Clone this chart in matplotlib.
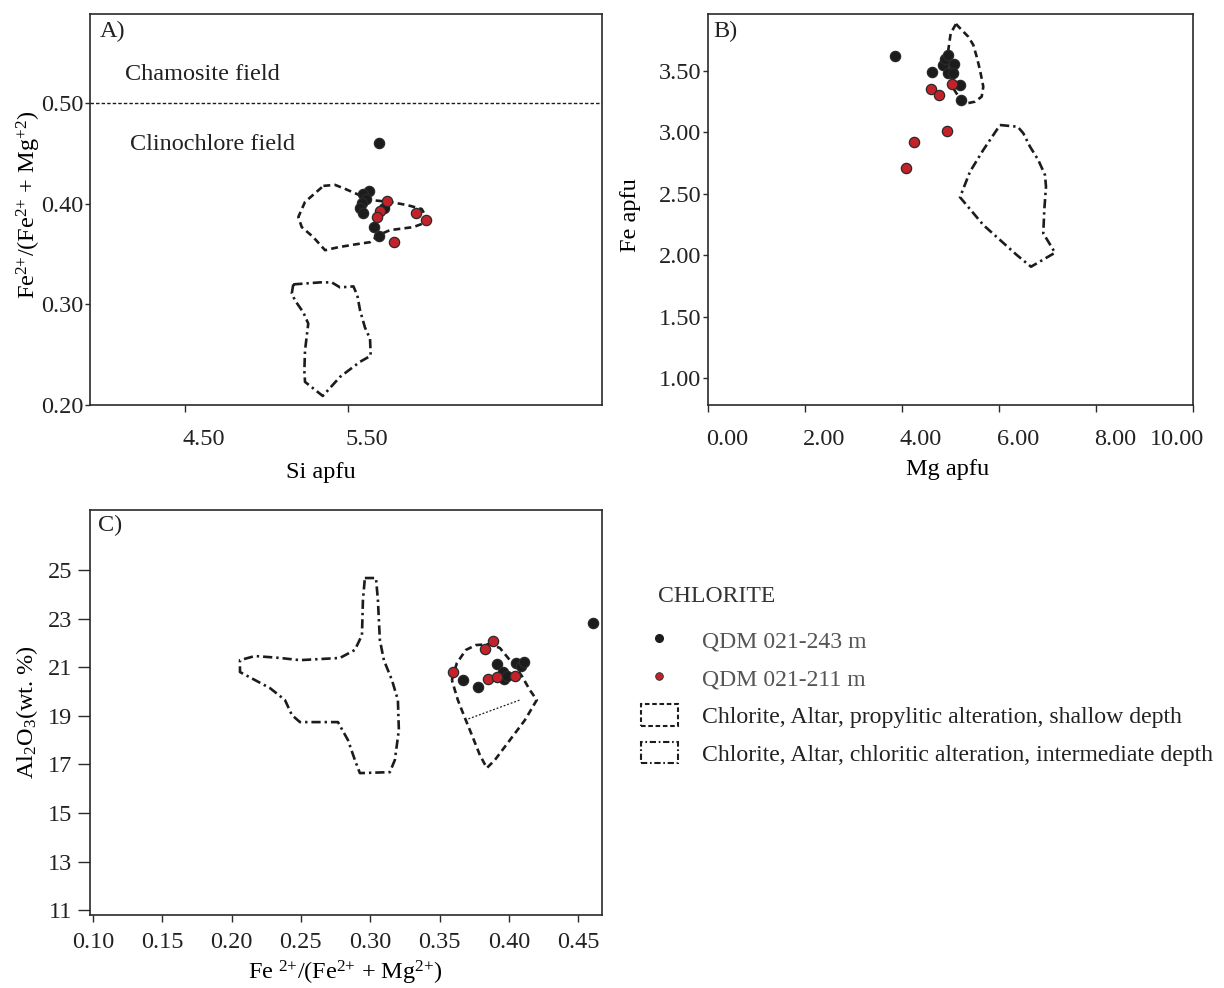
import matplotlib
matplotlib.use('Agg')
import matplotlib.pyplot as plt
from matplotlib.lines import Line2D
from matplotlib.patches import Rectangle
from matplotlib.transforms import ScaledTranslation

plt.rcParams['font.family'] = ['Liberation Serif', 'DejaVu Serif']
plt.rcParams['mathtext.default'] = 'regular'
plt.rcParams['mathtext.fontset'] = 'custom'
plt.rcParams['mathtext.rm'] = 'Liberation Serif'
plt.rcParams['text.color'] = '#222222'
plt.rcParams['axes.edgecolor'] = '#2a2a2a'
plt.rcParams['xtick.color'] = '#2a2a2a'
plt.rcParams['ytick.color'] = '#2a2a2a'
plt.rcParams['xtick.labelcolor'] = '#222222'
plt.rcParams['ytick.labelcolor'] = '#222222'

FS = 17.5
FS_LEG = 17.1

# ---------------- Panel A data: Si apfu vs Fe2+/(Fe2+ + Mg2+) ----------------
a_black_si = [5.690, 5.629, 5.592, 5.610, 5.586, 5.574, 5.592, 5.721, 5.660, 5.690]
a_black_fe = [0.461, 0.413, 0.410, 0.405, 0.401, 0.396, 0.391, 0.396, 0.377, 0.368]
a_red_si = [5.742, 5.696, 5.678, 5.920, 5.979, 5.785]
a_red_fe = [0.403, 0.393, 0.387, 0.391, 0.384, 0.362]

a_prop_si = [5.349, 5.420, 5.482, 5.553, 5.635, 5.758, 5.860, 5.952, 5.979, 5.983,
             5.901, 5.758, 5.686, 5.635, 5.553, 5.441, 5.359, 5.287, 5.216, 5.195, 5.236, 5.349]
a_prop_fe = [0.418, 0.419, 0.415, 0.410, 0.404, 0.402, 0.399, 0.395, 0.387, 0.382,
             0.377, 0.374, 0.369, 0.362, 0.360, 0.357, 0.354, 0.367, 0.377, 0.387, 0.402, 0.418]

a_chl_si = [5.164, 5.247, 5.328, 5.400, 5.451, 5.533, 5.557, 5.574, 5.604, 5.635, 5.639,
            5.574, 5.451, 5.345, 5.236, 5.232, 5.236, 5.247, 5.256, 5.226, 5.175, 5.155, 5.164]
a_chl_fe = [0.320, 0.321, 0.322, 0.322, 0.317, 0.318, 0.309, 0.294, 0.277, 0.266, 0.249,
            0.243, 0.228, 0.209, 0.223, 0.234, 0.254, 0.269, 0.281, 0.292, 0.304, 0.311, 0.320]

a_limit = 0.50
a_xticks = [4.50, 5.50]
a_yticks = [0.20, 0.30, 0.40, 0.50]

# ---------------- Panel B data: Mg apfu vs Fe apfu ----------------
b_black_mg = [3.856, 4.612, 4.839, 4.893, 4.942, 5.072, 4.955, 5.045, 5.196, 5.210]
b_black_fe = [3.622, 3.494, 3.549, 3.595, 3.630, 3.557, 3.481, 3.481, 3.386, 3.264]
b_red_mg = [4.592, 4.769, 5.025, 4.934, 4.254, 4.076]
b_red_fe = [3.353, 3.305, 3.394, 3.011, 2.919, 2.708]

b_prop_mg = [5.113, 5.231, 5.367, 5.470, 5.540, 5.608, 5.676, 5.643, 5.505, 5.346,
             5.231, 5.058, 4.990, 4.955, 5.004, 5.113]
b_prop_fe = [3.883, 3.834, 3.779, 3.712, 3.616, 3.508, 3.372, 3.291, 3.250, 3.237,
             3.250, 3.359, 3.535, 3.671, 3.807, 3.883]

b_chl_mg = [6.021, 6.386, 6.501, 6.639, 6.810, 6.948, 6.969, 6.934, 6.913, 7.155,
            6.660, 6.365, 6.021, 5.676, 5.196, 5.402, 5.676, 6.021]
b_chl_fe = [3.060, 3.046, 2.993, 2.884, 2.775, 2.653, 2.558, 2.368, 2.178, 2.020,
            1.906, 2.002, 2.124, 2.246, 2.472, 2.680, 2.857, 3.060]

b_xticks = [0.0, 2.0, 4.0, 6.0, 8.0, 10.0]
b_yticks = [1.00, 1.50, 2.00, 2.50, 3.00, 3.50]

# ---------------- Panel C data: Fe2+/(Fe2+ + Mg2+) vs Al2O3 ----------------
c_black_fe = [0.3669, 0.3778, 0.3914, 0.3953, 0.3963, 0.3984, 0.4049, 0.4085, 0.4107, 0.4604]
c_black_al = [20.47, 20.20, 21.13, 20.81, 20.50, 20.64, 21.16, 21.05, 21.22, 22.82]
c_red_fe = [0.3597, 0.3826, 0.3886, 0.3850, 0.3914, 0.4042]
c_red_al = [20.79, 21.75, 22.09, 20.51, 20.61, 20.65]

c_prop_fe = [0.3588, 0.3624, 0.3689, 0.3761, 0.3862, 0.3934, 0.4006, 0.4092, 0.4150, 0.4200,
             0.4114, 0.4006, 0.3898, 0.3840, 0.3790, 0.3732, 0.3682, 0.3631, 0.3588]
c_prop_al = [20.47, 21.17, 21.71, 21.91, 21.95, 21.79, 21.29, 20.64, 20.06, 19.65,
             18.82, 18.00, 17.18, 16.85, 17.38, 18.21, 18.91, 19.65, 20.47]
c_prop_inner_fe = [0.3682, 0.4078]
c_prop_inner_al = [18.82, 19.65]

c_chl_fe = [0.2961, 0.3041, 0.3055, 0.3069, 0.3098, 0.3156, 0.3199, 0.3206, 0.3177, 0.3141,
            0.2925, 0.2889, 0.2839, 0.2767, 0.2637, 0.2493, 0.2435, 0.2385, 0.2277, 0.2169,
            0.2061, 0.2061, 0.2169, 0.2349, 0.2493, 0.2781, 0.2889, 0.2940, 0.2947, 0.2961]
c_chl_al = [24.67, 24.67, 23.76, 22.12, 21.29, 20.47, 19.65, 18.41, 17.18, 16.68,
            16.64, 17.18, 18.00, 18.74, 18.74, 18.74, 19.03, 19.65, 20.14, 20.47,
            20.80, 21.29, 21.46, 21.38, 21.29, 21.38, 21.71, 22.32, 23.76, 24.67]

c_xticks = [0.10, 0.15, 0.20, 0.25, 0.30, 0.35, 0.40, 0.45]
c_yticks = [11, 13, 15, 17, 19, 21, 23, 25]

legend_labels = ['QDM 021-243 m', 'QDM 021-211 m',
                 'Chlorite, Altar, propylitic alteration, shallow depth',
                 'Chlorite, Altar, chloritic alteration, intermediate depth']

# ---------------- styles ----------------
BLACK = '#1c1c1c'
RED = '#c4222b'
EDGE = '#2a2a2a'
MS = 7.4
DASH = (0, (2.6, 1.6))
DASHDOT = (0, (3.5, 1.5, 0.9, 1.5))
LW = 1.9

W, H = 1224, 988
fig = plt.figure(figsize=(W / 100, H / 100), dpi=100)


def ax_px(l, r, t, b):
    return fig.add_axes([l / W, 1 - b / H, (r - l) / W, (b - t) / H])


axA = ax_px(90, 602, 14, 405)
axB = ax_px(708, 1193, 14, 405)
axC = ax_px(90, 602, 510, 915)

for ax in (axA, axB, axC):
    ax.tick_params(direction='out', width=1.0, labelsize=FS, top=False, right=False)
    for s in ax.spines.values():
        s.set_linewidth(1.2)
for ax in (axA, axB):
    ax.tick_params(axis='x', length=5, pad=12.5)
    ax.tick_params(axis='y', length=3.5, pad=1.2)
axC.tick_params(axis='x', length=5, pad=7)
axC.tick_params(axis='y', length=8.6, pad=4)


def scatter(ax, x, y, color):
    ax.plot(x, y, 'o', ms=MS, mfc=color, mec=EDGE, mew=0.9, ls='none', zorder=5)


# ---- Panel A ----
axA.plot(a_prop_si, a_prop_fe, color=BLACK, lw=LW, ls=DASH, zorder=3)
axA.plot(a_chl_si, a_chl_fe, color=BLACK, lw=LW, ls=DASHDOT, zorder=3)
axA.axhline(a_limit, color=BLACK, lw=1.0, ls=(0, (2.5, 1.5)), zorder=2)
scatter(axA, a_black_si, a_black_fe, BLACK)
scatter(axA, a_red_si, a_red_fe, RED)
axA.set_xlim(3.917, 7.058)
axA.set_ylim(0.20, 0.589)
axA.set_xticks(a_xticks)
axA.set_xticklabels([f'{v:.2f}' for v in a_xticks])
axA.set_yticks(a_yticks)
axA.set_yticklabels([f'{v:.2f}' for v in a_yticks])
axA.set_xlabel('Si apfu', fontsize=FS)
axA.set_ylabel('Fe$^{2{+}}$/(Fe$^{2{+}}$ + Mg$^{{+}2}$)', fontsize=FS)
axA.xaxis.set_label_coords(0.451, -0.146)
axA.yaxis.set_label_coords(-0.092, 0.512)
axA.text(0.02, 0.955, 'A)', transform=axA.transAxes, fontsize=FS, va='center', ha='left')
axA.text(0.068, 0.845, 'Chamosite field', transform=axA.transAxes, fontsize=FS,
         va='center', ha='left')
axA.text(0.078, 0.665, 'Clinochlore field', transform=axA.transAxes, fontsize=FS,
         va='center', ha='left')

# ---- Panel B ----
axB.plot(b_prop_mg, b_prop_fe, color=BLACK, lw=LW, ls=DASH, zorder=3)
axB.plot(b_chl_mg, b_chl_fe, color=BLACK, lw=LW, ls=DASHDOT, zorder=3)
scatter(axB, b_black_mg, b_black_fe, BLACK)
scatter(axB, b_red_mg, b_red_fe, RED)
axB.set_xlim(0, 10)
axB.set_ylim(0.78, 3.964)
axB.set_xticks(b_xticks)
axB.set_xticklabels([f'{v:.2f}' for v in b_xticks])
axB.set_yticks(b_yticks)
axB.set_yticklabels([f'{v:.2f}' for v in b_yticks])
axB.set_xlabel('Mg apfu', fontsize=FS)
axB.set_ylabel('Fe apfu', fontsize=FS)
axB.xaxis.set_label_coords(0.495, -0.138)
axB.yaxis.set_label_coords(-0.138, 0.486)
axB.text(0.01, 0.955, 'B)', transform=axB.transAxes, fontsize=FS, va='center', ha='left')

# ---- Panel C ----
axC.plot(c_prop_fe, c_prop_al, color=BLACK, lw=LW, ls=DASH, zorder=3)
axC.plot(c_prop_inner_fe, c_prop_inner_al, color=BLACK, lw=0.9, ls=(0, (1.5, 1.5)), zorder=3)
axC.plot(c_chl_fe, c_chl_al, color=BLACK, lw=LW, ls=DASHDOT, zorder=3)
scatter(axC, c_black_fe, c_black_al, BLACK)
scatter(axC, c_red_fe, c_red_al, RED)
axC.set_xlim(0.098, 0.467)
axC.set_ylim(10.8, 27.47)
axC.set_xticks(c_xticks)
axC.set_xticklabels([f'{v:.2f}' for v in c_xticks])
axC.set_yticks(c_yticks)
axC.set_yticklabels([str(v) for v in c_yticks])
axC.set_xlabel('Fe $^{2{+}}$/(Fe$^{2{+}}$ + Mg$^{2{+}}$)', fontsize=FS)
axC.set_ylabel('Al$_2$O$_3$(wt. %)', fontsize=FS)
axC.xaxis.set_label_coords(0.498, -0.108)
axC.yaxis.set_label_coords(-0.097, 0.50)
axC.text(0.015, 0.962, 'C)', transform=axC.transAxes, fontsize=FS, va='center', ha='left')

# tick-label offsets as in the original artwork
for ax in (axA, axB):
    ticks = ax.xaxis.get_major_ticks()
    for i, t in enumerate(ticks):
        dx = 19
        if ax is axB and i == len(ticks) - 1:
            dx = -16
        t.label1.set_transform(t.label1.get_transform() +
                               ScaledTranslation(dx / 100, 0, fig.dpi_scale_trans))

# ---- Legend ----
handles = [
    Line2D([], [], marker='o', ls='none', ms=5.5, mfc=BLACK, mec=BLACK),
    Line2D([], [], marker='o', ls='none', ms=5.5, mfc=RED, mec=EDGE, mew=0.6),
    Rectangle((0, 0), 1, 1, fill=False, edgecolor=BLACK, lw=1.5, ls=(0, (2.2, 1.3))),
    Rectangle((0, 0), 1, 1, fill=False, edgecolor=BLACK, lw=1.5, ls=(0, (3, 1.3, 0.8, 1.3))),
]
leg = fig.legend(handles, legend_labels, loc='upper left',
                 bbox_to_anchor=(641 / W, 1 - 629 / H), frameon=False, fontsize=FS_LEG,
                 handlelength=1.55, handleheight=1.03, handletextpad=1.0,
                 labelspacing=0.57, borderpad=0, borderaxespad=0)
for i, t in enumerate(leg.get_texts()):
    t.set_color('#555555' if i < 2 else '#222222')
fig.text(658 / W, 1 - 597 / H, 'CHLORITE', fontsize=FS_LEG, va='center', ha='left',
         color='#333333')

fig.savefig('out.png', dpi=100)
